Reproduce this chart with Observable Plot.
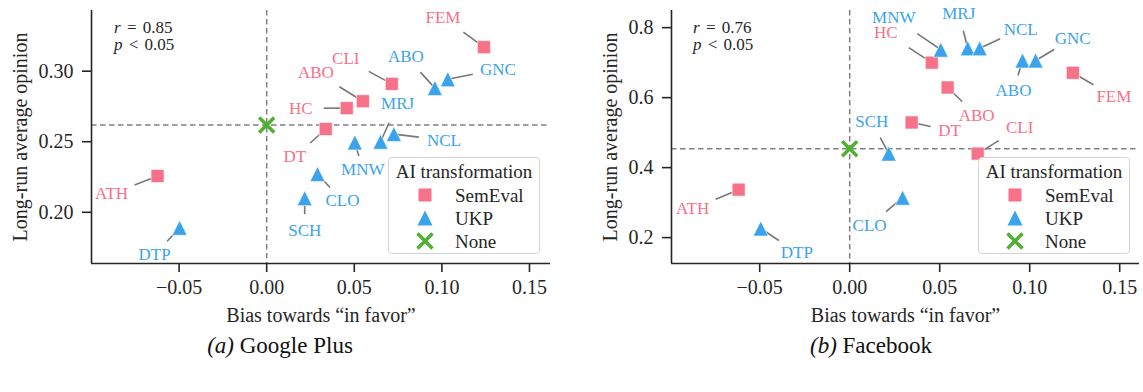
<!DOCTYPE html>
<html><head><meta charset="utf-8">
<script src="https://cdn.jsdelivr.net/npm/d3@7"></script>
<script src="https://cdn.jsdelivr.net/npm/@observablehq/plot@0.6"></script>
<style>
html,body{margin:0;padding:0;background:#fff;}
body{width:1143px;height:392px;overflow:hidden;position:relative;font-family:"Liberation Serif",serif;color:#262626;}
.panel{position:absolute;top:0;}
.stats{position:absolute;font-size:17px;line-height:16px;height:16px;color:#262626;white-space:pre;word-spacing:2px;}
.legend{position:absolute;top:157px;width:152px;height:97px;border:1px solid #d4d4d4;border-radius:4px;background:rgba(255,255,255,0.85);box-sizing:border-box;}
.caption{position:absolute;top:333px;font-size:23px;color:#111;white-space:nowrap;transform:translateX(-50%);}
</style></head><body>
<div id="a" class="panel" style="left:0px"></div>
<div id="b" class="panel" style="left:580px"></div>
<div class="stats" style="left:114px;top:20px"><i>r</i> = 0.85</div>
<div class="stats" style="left:114px;top:37px"><i>p</i> &lt; 0.05</div>
<div class="stats" style="left:693px;top:20px"><i>r</i> = 0.76</div>
<div class="stats" style="left:693px;top:37px"><i>p</i> &lt; 0.05</div>
<div id="legA" class="legend" style="left:388px"></div>
<div id="legB" class="legend" style="left:978px"></div>
<div class="caption" style="left:280px"><i>(a)</i> Google Plus</div>
<div class="caption" style="left:871px"><i>(b)</i> Facebook</div>
<script>
// ---------- data ----------
const groupNames = ["SemEval", "UKP", "None"];
const groupColors = ["#f77189", "#3ba3ec", "#50b131"];
const legendTitle = "AI transformation";
const xLabel = "Bias towards \u201cin favor\u201d";
const yLabel = "Long-run average opinion";
const xTicks = [-0.05, 0, 0.05, 0.10, 0.15];

// (a) Google Plus
const gpLabels  = ["FEM","CLI","ABO","HC","DT","ATH","GNC","ABO","NCL","MRJ","MNW","CLO","SCH","DTP",""];
const gpGroups  = ["SemEval","SemEval","SemEval","SemEval","SemEval","SemEval","UKP","UKP","UKP","UKP","UKP","UKP","UKP","UKP","None"];
const gpBias    = [0.124, 0.0714, 0.0549, 0.0457, 0.0337, -0.0623, 0.1034, 0.096, 0.0726, 0.065, 0.0503, 0.029, 0.0217, -0.0497, 0];
const gpOpinion = [0.317, 0.291, 0.2787, 0.2738, 0.259, 0.2257, 0.2943, 0.288, 0.2554, 0.250, 0.2495, 0.2271, 0.210, 0.189, 0.2618];
const gpYTicks  = [0.20, 0.25, 0.30];

// (b) Facebook
const fbLabels  = ["HC","FEM","ABO","DT","CLI","ATH","MNW","MRJ","NCL","ABO","GNC","SCH","CLO","DTP",""];
const fbGroups  = ["SemEval","SemEval","SemEval","SemEval","SemEval","SemEval","UKP","UKP","UKP","UKP","UKP","UKP","UKP","UKP","None"];
const fbBias    = [0.0456, 0.124, 0.0544, 0.0344, 0.0711, -0.0617, 0.0506, 0.0656, 0.0722, 0.096, 0.1033, 0.0217, 0.0294, -0.0494, 0];
const fbOpinion = [0.70, 0.671, 0.629, 0.529, 0.44, 0.337, 0.737, 0.741, 0.741, 0.706, 0.706, 0.44, 0.314, 0.226, 0.454];
const fbYTicks  = [0.2, 0.4, 0.6, 0.8];

// ---------- layout (label offsets in px, relative to point) ----------
const gpOffsets = [[-41,-30],[-46,-25],[-47,-29],[-46,0],[-31,28],[-46,18],[50,-10],[-29,-32],[50,6],[17,-38],[8,27],[25,27],[0,32],[-25,27],[0,0]];
const fbOffsets = [[-46,-30],[41,24],[29,28],[38,8],[42,-26],[-46,19],[-47,-32],[-9,-35],[41,-19],[-9,30],[37,-22],[-17,-32],[-33,28],[36,24],[0,0]];

const colorOf = g => groupColors[groupNames.indexOf(g)];

// custom symbols (centered on bounding box, like matplotlib)
const symSquare = {draw(ctx, size){const s=Math.sqrt(size/Math.PI); ctx.rect(-s,-s,2*s,2*s);}};
const symTri = {draw(ctx, size){const s=Math.sqrt(size/Math.PI); ctx.moveTo(0,-s); ctx.lineTo(s,s); ctx.lineTo(-s,s); ctx.closePath();}};
const symX = {draw(ctx, size){const s=Math.sqrt(size/Math.PI); ctx.moveTo(-s,-s); ctx.lineTo(s,s); ctx.moveTo(s,-s); ctx.lineTo(-s,s);}};

function panel({width, marginRight, xDomain, yDomain, yTicks, yFmt, labels, groups, bias, opinion, offsets, yLabelDx}) {
  const mL = 91, mT = 10, mB = 67, H = 330;
  const kx = (width - mL - marginRight) / (xDomain[1] - xDomain[0]);
  const ky = (H - mT - mB) / (yDomain[1] - yDomain[0]);
  const rows = labels.map((l, i) => ({label: l, group: groups[i], x: bias[i], y: opinion[i], ox: offsets[i][0], oy: offsets[i][1]}));
  const labeled = rows.filter(d => d.group !== "None");
  const none = rows.find(d => d.group === "None");
  const dash = {stroke: "#808080", strokeWidth: 1.5, strokeDasharray: "5.5,3.5"};
  const axisCol = "#262626";
  return Plot.plot({
    width, height: H, marginLeft: mL, marginRight, marginTop: mT, marginBottom: mB,
    x: {domain: xDomain}, y: {domain: yDomain},
    style: {fontFamily: '"Liberation Serif", serif', fontSize: "20px", color: axisCol, background: "transparent", overflow: "visible"},
    marks: [
      Plot.ruleY([none.y], dash),
      Plot.ruleX([none.x], dash),
      Plot.ruleX([xDomain[0]], {stroke: axisCol, strokeWidth: 1.6}),
      Plot.ruleY([yDomain[0]], {stroke: axisCol, strokeWidth: 1.6}),
      Plot.axisX({ticks: xTicks, tickFormat: d3.format(".2f"), tickSize: 9, tickPadding: 7, strokeWidth: 1.6, label: null}),
      Plot.axisY({ticks: yTicks, tickFormat: d3.format(yFmt), tickSize: 9, tickPadding: 9, strokeWidth: 1.6, label: null}),
      Plot.text([xLabel], {frameAnchor: "bottom", lineAnchor: "middle", textAnchor: "middle", dy: 52, fontSize: 20, fill: axisCol}),
      Plot.text([yLabel], {frameAnchor: "left", textAnchor: "middle", lineAnchor: "middle", rotate: -90, dx: yLabelDx, fontSize: 20, fill: axisCol}),
      Plot.link(labeled, {x1: "x", y1: "y", x2: d => d.x + 0.5 * d.ox / kx, y2: d => d.y - 0.5 * d.oy / ky, stroke: "#777", strokeWidth: 1.6}),
      Plot.dot(rows.filter(d => d.group === "SemEval"), {x: "x", y: "y", symbol: symSquare, r: 6.5, fill: colorOf("SemEval"), stroke: "white", strokeWidth: 0.6}),
      Plot.dot(rows.filter(d => d.group === "UKP"), {x: "x", y: "y", symbol: symTri, r: 7.5, fill: colorOf("UKP"), stroke: "white", strokeWidth: 0.6}),
      Plot.dot([none], {x: "x", y: "y", symbol: symX, r: 7.5, fill: "none", stroke: colorOf("None"), strokeWidth: 3.5}),
      Plot.text(labeled, {x: d => d.x + d.ox / kx, y: d => d.y - d.oy / ky, text: "label", fill: d => colorOf(d.group), fontSize: 17})
    ]
  });
}

document.getElementById("a").append(panel({
  width: 571, marginRight: 21, xDomain: [-0.1, 0.162], yDomain: [0.1637, 0.343], yTicks: gpYTicks, yFmt: ".2f",
  labels: gpLabels, groups: gpGroups, bias: gpBias, opinion: gpOpinion, offsets: gpOffsets, yLabelDx: -71
}));
document.getElementById("b").append(panel({
  width: 563, marginRight: 4, xDomain: [-0.099, 0.161], yDomain: [0.126, 0.849], yTicks: fbYTicks, yFmt: ".1f",
  labels: fbLabels, groups: fbGroups, bias: fbBias, opinion: fbOpinion, offsets: fbOffsets, yLabelDx: -61
}));

// legends
function legend(id) {
  const svg = d3.select("#" + id).append("svg").attr("width", 152).attr("height", 97)
    .style("font-family", '"Liberation Serif", serif').style("overflow", "visible");
  svg.append("text").attr("x", 75).attr("y", 13).attr("text-anchor", "middle").attr("dominant-baseline", "central")
    .attr("font-size", 19).attr("fill", "#262626").text(legendTitle);
  const syms = [symSquare, symTri, symX];
  const rs = [6.5, 7.5, 7.5];
  groupNames.forEach((g, i) => {
    const cy = 37 + i * 23;
    const sym = d3.symbol(syms[i], rs[i] * rs[i] * Math.PI);
    const p = svg.append("path").attr("d", sym()).attr("transform", `translate(36,${cy})`);
    if (g === "None") p.attr("fill", "none").attr("stroke", groupColors[i]).attr("stroke-width", 3.5);
    else p.attr("fill", groupColors[i]);
    svg.append("text").attr("x", 66).attr("y", cy).attr("dominant-baseline", "central")
      .attr("font-size", 19).attr("fill", "#262626").text(g);
  });
}
legend("legA");
legend("legB");
</script>
</body></html>
